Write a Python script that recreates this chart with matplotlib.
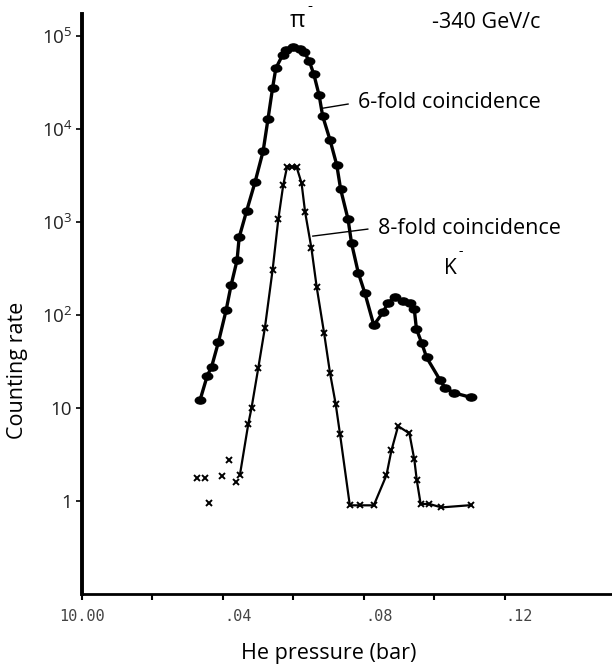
import matplotlib
matplotlib.use('Agg')
import matplotlib.pyplot as plt
import matplotlib.transforms as mtransforms
from matplotlib.path import Path
import numpy as np

plt.rcParams['font.family'] = ['Open Sans', 'DejaVu Sans']
plt.rcParams['mathtext.fontset'] = 'custom'
plt.rcParams['mathtext.rm'] = 'Open Sans'
plt.rcParams['mathtext.it'] = 'Open Sans'

# 6-fold coincidence (filled dots)
p6 = [0.0335, 0.0355, 0.0368, 0.0387, 0.0409, 0.0423, 0.0440, 0.0446, 0.0467,
      0.0491, 0.0514, 0.0528, 0.0541, 0.0550, 0.0569, 0.0580, 0.0600, 0.0618,
      0.0630, 0.0645, 0.0658, 0.0673, 0.0683, 0.0704, 0.0723, 0.0734, 0.0755,
      0.0765, 0.0784, 0.0803, 0.0828, 0.0855, 0.0867, 0.0888, 0.0912, 0.0932,
      0.0943, 0.0949, 0.0964, 0.0978, 0.1016, 0.1030, 0.1055, 0.1105]
rate6 = [12.2, 22, 28, 51, 113, 209, 389, 686, 1312,
         2690, 5800, 13000, 28000, 45000, 62500, 71000, 76800, 73600,
         67800, 53800, 38700, 23000, 13800, 7600, 4100, 2250, 1070,
         590, 285, 171, 78, 108, 134, 155, 142, 134,
         115, 71, 50, 35, 20, 16.6, 14.6, 13]

# 8-fold coincidence, isolated crosses (not joined)
p8_loose = [0.0325, 0.0349, 0.0361, 0.0396, 0.0417, 0.0437]
rate8_loose = [1.78, 1.78, 0.96, 1.86, 2.75, 1.59]

# 8-fold coincidence, joined crosses
p8 = [0.0448, 0.0472, 0.0481, 0.0500, 0.0519, 0.0541, 0.0557, 0.0571, 0.0582,
      0.0595, 0.0609, 0.0623, 0.0633, 0.0651, 0.0666, 0.0687, 0.0704, 0.0720,
      0.0732, 0.0760, 0.0789, 0.0828, 0.0864, 0.0878, 0.0897, 0.0929, 0.0943,
      0.0950, 0.0961, 0.0986, 0.1020, 0.1105]
rate8 = [1.9, 6.8, 10, 26.7, 73, 309, 1070, 2500, 3940,
         3940, 3900, 2630, 1290, 525, 200, 64, 23.6, 11,
         5.3, 0.9, 0.9, 0.9, 1.9, 3.5, 6.4, 5.35, 2.8,
         1.68, 0.93, 0.93, 0.855, 0.905]

xticks = [0.0, 0.02, 0.04, 0.06, 0.08, 0.10, 0.12]
xticklabels = ['10.00', '', '.04', '', '.08', '', '.12']
yticks = [1, 10, 1e2, 1e3, 1e4, 1e5]
yticklabels = ['1', '10', '$10^2$', '$10^3$', '$10^4$', '$10^5$']

# flattened ellipse marker
circ = Path.unit_circle()
ellipse = Path(circ.vertices * np.array([1.45, 1.0]), circ.codes)

fig = plt.figure(figsize=(6.12, 6.66), dpi=100)
ax = fig.add_axes([0.134, 0.108, 0.866, 0.871])

ax.plot(p6, rate6, color='black', lw=2.4, marker=ellipse, ms=7.5,
        markerfacecolor='black', markeredgecolor='black')
ax.plot(p8, rate8, color='black', lw=1.6, marker='x', ms=5, mew=1.4)
ax.plot(p8_loose, rate8_loose, ls='none', color='black', marker='x', ms=5, mew=1.4)

ax.set_yscale('log')
ax.set_xlim(0, 0.1504)
ax.set_ylim(0.1, 1.73e5)

ax.spines['top'].set_visible(False)
ax.spines['right'].set_visible(False)
ax.spines['left'].set_linewidth(2.8)
ax.spines['bottom'].set_linewidth(2.0)

ax.set_yticks(yticks)
ax.set_yticklabels(yticklabels, fontsize=13.5, color='#222222')
ax.yaxis.set_minor_locator(matplotlib.ticker.NullLocator())
ax.tick_params(axis='y', length=4, width=1.2, pad=3)

ax.set_xticks(xticks)
ax.set_xticklabels(xticklabels, fontsize=11, family='DejaVu Sans Mono', color='#444444')
ax.tick_params(axis='x', length=4, width=1.5, pad=7)
for i, lab in enumerate(ax.get_xticklabels()):
    if i > 0:
        lab.set_horizontalalignment('left')
        lab.set_transform(lab.get_transform() +
                          mtransforms.ScaledTranslation(1 / 100, 0, fig.dpi_scale_trans))

# axis titles
fig.text(18 / 612, 1 - 370 / 666, 'Counting rate', fontsize=15.5, rotation=90,
         ha='center', va='center')
fig.text(329 / 612, 1 - 653 / 666, 'He pressure (bar)', fontsize=15.5,
         ha='center', va='center')

ax.text(0.0610, 1.45e5, 'π', fontsize=17, ha='center', va='center')
ax.text(0.0646, 2.1e5, '-', fontsize=11, ha='center', va='center')
ax.text(0.1146, 1.4e5, '-340 GeV/c', fontsize=15.5, ha='center', va='center')
ax.text(0.0783, 1.95e4, '6-fold coincidence', fontsize=15.5, ha='left', va='center')
ax.plot([0.0684, 0.0755], [16800, 18600], color='black', lw=1.0)
ax.text(0.0840, 861, '8-fold coincidence', fontsize=15.5, ha='left', va='center')
ax.plot([0.0655, 0.0811], [707, 841], color='black', lw=1.0)
ax.text(0.1044, 320, 'K', fontsize=15, ha='center', va='center')
ax.text(0.1076, 480, '-', fontsize=10, ha='center', va='center')

fig.savefig('out.png', dpi=100)
